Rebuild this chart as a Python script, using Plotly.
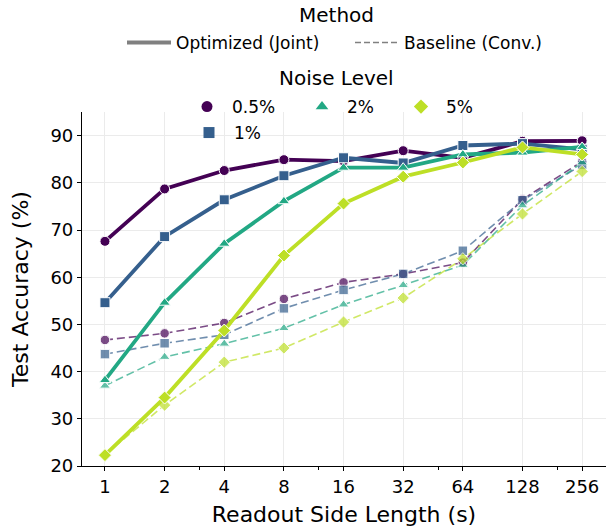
import plotly.graph_objects as go
import math

# ---------------- data ----------------
readout_sizes = [1, 2, 4, 8, 16, 32, 64, 128, 256]
tick_labels = ["1", "2", "4", "8", "16", "32", "64", "128", "256"]
noise_levels = ["0.5%", "1%", "2%", "5%"]

opt_05 = [67.6, 78.7, 82.6, 84.9, 84.6, 86.8, 85.3, 88.8, 88.9]
opt_1 = [54.6, 68.6, 76.4, 81.5, 85.3, 84.2, 87.9, 88.3, 87.1]
opt_2 = [38.2, 54.6, 67.1, 76.1, 83.2, 83.2, 86.0, 86.4, 87.6]
opt_5 = [22.3, 34.5, 48.7, 64.6, 75.6, 81.3, 84.3, 87.5, 86.0]

base_05 = [46.7, 48.1, 50.3, 55.4, 58.9, 60.7, 63.1, 76.5, 84.5]
base_1 = [43.7, 46.0, 47.8, 53.4, 57.3, 60.7, 65.6, 76.3, 83.8]
base_2 = [37.0, 43.1, 45.9, 49.2, 54.2, 58.3, 62.6, 75.2, 84.3]
base_5 = [22.4, 32.9, 42.0, 45.0, 50.5, 55.6, 63.9, 73.4, 82.4]

optimized = [opt_05, opt_1, opt_2, opt_5]
baseline = [base_05, base_1, base_2, base_5]

colors = ["#440154", "#355f8d", "#22a884", "#bddf26"]
symbols = ["circle", "square", "triangle-up", "diamond"]

FONT = "DejaVu Sans"
W, H = 616, 527
L, R, T, B = 82, 10, 112, 61
PW, PH = W - L - R, H - T - B


def px_x(px):
    return (px - L) / PW


def px_y(py):
    return (H - B - py) / PH


fig = go.Figure()

# baseline (dashed) first
for i, name in enumerate(noise_levels):
    fig.add_trace(go.Scatter(
        x=readout_sizes, y=baseline[i], mode="lines+markers",
        line=dict(color=colors[i], width=1.6, dash="8px,4px"),
        marker=dict(symbol=symbols[i], size=9.5, color=colors[i],
                    line=dict(color="white", width=1)),
        opacity=0.7, showlegend=False, name=name + " baseline"))

for i, name in enumerate(noise_levels):
    fig.add_trace(go.Scatter(
        x=readout_sizes, y=optimized[i], mode="lines+markers",
        line=dict(color=colors[i], width=3.8),
        marker=dict(symbol=symbols[i], size=10, color=colors[i],
                    line=dict(color="white", width=1)),
        showlegend=False, name=name + " optimized"))

# ---------------- legends ----------------
legend_font = dict(family=FONT, size=17, color="black")
method_items = [
    ("Optimized (Joint)", dict(color="#808080", width=4), 122),
    ("Baseline (Conv.)", dict(color="#808080", width=1.6, dash="6px,3px"), 350),
]
for k, (label, ln, xpx) in enumerate(method_items):
    lg = "legend" if k == 0 else "legend%d" % (k + 2)
    fig.add_trace(go.Scatter(x=[None], y=[None], mode="lines", line=ln,
                             name=label, legend=lg, showlegend=True))

noise_pos = [(182, 107), (184, 133), (297, 107), (396, 107)]
for i, name in enumerate(noise_levels):
    lg = "legend%d" % (i + 4)
    fig.add_trace(go.Scatter(x=[None], y=[None], mode="markers",
                             marker=dict(symbol=symbols[i], size=11, color=colors[i]),
                             name=name, legend=lg, showlegend=True))

layout_legends = {}
for k, (label, ln, xpx) in enumerate(method_items):
    lg = "legend" if k == 0 else "legend%d" % (k + 2)
    layout_legends[lg] = dict(x=px_x(xpx), y=px_y(43), xanchor="left", yanchor="middle",
                              font=legend_font, bgcolor="rgba(0,0,0,0)",
                              itemwidth=44, orientation="h")
for i, name in enumerate(noise_levels):
    lg = "legend%d" % (i + 4)
    xpx, ypx = noise_pos[i]
    layout_legends[lg] = dict(x=px_x(xpx), y=px_y(ypx), xanchor="left", yanchor="middle",
                              font=legend_font, bgcolor="rgba(0,0,0,0)",
                              itemwidth=40, orientation="h")

annotations = [
    dict(text="Method", x=px_x(336), y=px_y(15), xref="paper", yref="paper",
         showarrow=False, font=dict(family=FONT, size=20, color="black"),
         xanchor="center", yanchor="middle"),
    dict(text="Noise Level", x=px_x(336), y=px_y(78), xref="paper", yref="paper",
         showarrow=False, font=dict(family=FONT, size=20, color="black"),
         xanchor="center", yanchor="middle"),
]

x_lo, x_hi = -0.385, 8.40
fig.update_layout(
    width=W, height=H,
    margin=dict(l=L, r=R, t=T, b=B, pad=0, autoexpand=False),
    paper_bgcolor="white", plot_bgcolor="white",
    font=dict(family=FONT, size=18, color="black"),
    annotations=annotations,
    **layout_legends,
    xaxis=dict(
        type="log", range=[x_lo * math.log10(2), x_hi * math.log10(2)],
        tickvals=readout_sizes, ticktext=tick_labels, automargin=False,
        ticks="outside", ticklen=4, tickwidth=1, tickcolor="black",
        showline=True, linecolor="black", linewidth=1.2,
        showgrid=True, gridcolor="#ebebeb", gridwidth=0.8,
        zeroline=False, tickfont=dict(family=FONT, size=18),
        title=dict(text="Readout Side Length (s)", font=dict(family=FONT, size=22)),
        minor=dict(tickvals=[3, 12, 48, 192], ticks="outside", ticklen=2.5,
                   tickcolor="black", showgrid=False),
    ),
    yaxis=dict(
        range=[20, 95], tickvals=[20, 30, 40, 50, 60, 70, 80, 90], automargin=False,
        ticks="outside", ticklen=4, tickwidth=1, tickcolor="black",
        showline=True, linecolor="black", linewidth=1.2,
        showgrid=True, gridcolor="#ebebeb", gridwidth=0.8,
        zeroline=False, tickfont=dict(family=FONT, size=18),
        title=dict(text="Test Accuracy (%)", font=dict(family=FONT, size=22)),
    ),
)

fig.write_html("out.html", config={"displayModeBar": False},
               post_script="document.body.style.margin='0';")
